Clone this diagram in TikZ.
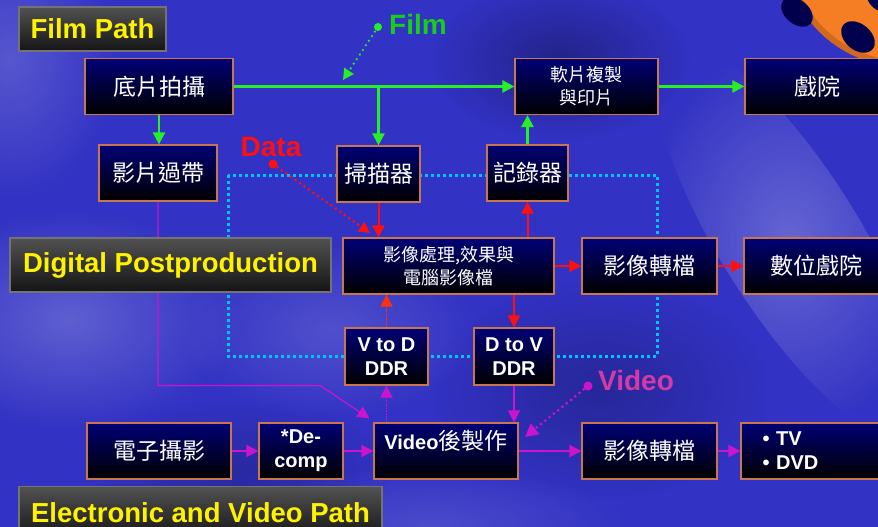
\documentclass[tikz,border=0pt]{standalone}
\usepackage{fontspec}
\setmainfont{Liberation Sans}
\newfontfamily\cjk{Noto Sans CJK TC}
\usetikzlibrary{arrows.meta, positioning, calc, fadings}

\definecolor{skyblue}{RGB}{50,50,196}
\definecolor{boxtop}{RGB}{0,0,118}
\definecolor{boxedge}{RGB}{200,118,80}
\definecolor{filmgreen}{RGB}{40,238,40}
\definecolor{filmtext}{RGB}{25,205,25}
\definecolor{datared}{RGB}{255,15,15}
\definecolor{videomag}{RGB}{205,20,205}
\definecolor{videopink}{RGB}{212,58,165}
\definecolor{frameblue}{RGB}{0,195,255}
\definecolor{reel}{RGB}{245,125,35}

\newcommand{\zhbig}{\cjk\fontsize{23}{27}\selectfont}
\newcommand{\zhsmall}{\cjk\fontsize{18}{23}\selectfont}
\newcommand{\enbox}{\rmfamily\bfseries\fontsize{20}{24}\selectfont}

\tikzfading[name=softspot, inner color=transparent!0, outer color=transparent!100]

\pgfdeclarelayer{backdrop}
\pgfdeclarelayer{links}
\pgfsetlayers{backdrop,links,main}

\begin{document}
\begin{tikzpicture}[
    x=1pt, y=-1pt,
    >={Triangle[length=12pt,width=12pt]},
    procbox/.style={draw=boxedge, line width=1.2pt, top color=boxtop,
        bottom color=black, text=white, minimum height=56pt,
        align=center, inner sep=1pt, font=\zhbig},
    pathtag/.style={draw=black!55, line width=1.2pt, top color=black!68,
        bottom color=black!92, text=yellow, inner sep=0pt,
        font=\bfseries\fontsize{27.5}{30}\selectfont},
    filmline/.style={->, filmgreen, line width=2.5pt},
    dataline/.style={->, datared, line width=2pt},
    videoline/.style={->, videomag, line width=1.6pt},
    dataframe/.style={frameblue, line width=3pt, dash pattern=on 3pt off 3pt},
    hint/.style={line width=3pt, line cap=round, dash pattern=on 0pt off 5.5pt},
    tagtext/.style={font=\bfseries\fontsize{28}{30}\selectfont, inner sep=0pt},
    spot/.style={path fading=softspot}
]
\useasboundingbox (0,0) rectangle (878,527);

%-------------------------------
% 0) Cloudy backdrop and film reel
%-------------------------------
\begin{pgfonlayer}{backdrop}
\fill[skyblue] (0,0) rectangle (878,527);
\fill[white, opacity=0.22, spot] (70,320) ellipse (170 and 110);
\fill[white, opacity=0.18, spot] (10,60) ellipse (110 and 140);
\fill[white, opacity=0.25, spot, rotate around={-58:(790,240)}]
    (790,240) ellipse (230 and 70);
\fill[white, opacity=0.15, spot] (330,330) ellipse (150 and 90);
\fill[white, opacity=0.12, spot] (430,525) ellipse (200 and 60);
\fill[black, opacity=0.30, spot] (560,60) ellipse (130 and 80);
\fill[black, opacity=0.22, spot] (600,390) ellipse (170 and 110);
\fill[black, opacity=0.18, spot] (240,470) ellipse (150 and 70);
\fill[reel] (905,-55) circle (122);
\draw[reel!55!black, line width=6pt, opacity=0.35] (905,-55) circle (119);
\fill[black!70!blue, rotate around={-40:(797,12)}] (797,12) ellipse (18 and 12);
\fill[black!70!blue, rotate around={-40:(858,37)}] (858,37) ellipse (19 and 13);
\fill[black!70!blue, rotate around={-40:(880,0)}] (880,0) ellipse (15 and 10);
\end{pgfonlayer}

%-------------------------------
% 1) Film path (top row)
%-------------------------------
\node[procbox, minimum width=148pt] (shoot) at (159,86.5) {底片拍攝};
\node[procbox, minimum width=118pt] (transfer) at (158,173) {影片過帶};
\node[procbox, minimum width=143pt, font=\zhsmall] (print) at (586.5,86.5)
    {軟片複製\\與印片};
\node[procbox, minimum width=144pt] (cinema) at (817,86.5) {戲院};

%-------------------------------
% 2) Digital postproduction (middle)
%-------------------------------
\node[procbox, minimum width=83pt] (scanner) at (378.5,174) {掃描器};
\node[procbox, minimum width=81pt] (recorder) at (527.5,173) {記錄器};
\node[procbox, minimum width=211pt, font=\zhsmall] (process) at (448.5,266)
    {影像處理,效果與\\電腦影像檔};
\node[procbox, minimum width=135pt] (dconv) at (649.5,266) {影像轉檔};
\node[procbox, minimum width=144pt] (dcinema) at (816,266) {數位戲院};
\node[procbox, minimum width=83pt, minimum height=57pt, font=\enbox]
    (vtod) at (386.5,356.5) {V to D\\DDR};
\node[procbox, minimum width=80pt, minimum height=57pt, font=\enbox]
    (dtov) at (514,356.5) {D to V\\DDR};

%-------------------------------
% 3) Electronic and video path (bottom row)
%-------------------------------
\node[procbox, minimum width=144pt] (camera) at (159,451) {電子攝影};
\node[procbox, minimum width=84pt, font=\enbox] (decomp) at (301,451)
    {*De-\\comp};
\node[procbox, minimum width=144pt] (video) at (446,451)
    {\raisebox{10pt}[\height][\depth]{{\enbox Video}後製作}};
\node[procbox, minimum width=135pt] (vconv) at (649.5,451) {影像轉檔};
\node[procbox, minimum width=148pt, text width=105pt, align=left,
    font=\enbox] (media) at (815,451) {\textbullet\ TV\\\textbullet\ DVD};

%-------------------------------
% 4) Path titles
%-------------------------------
\node[pathtag, minimum width=147pt, minimum height=44pt] (filmtitle)
    at (92.5,29) {Film Path};
\node[pathtag, minimum width=321pt, minimum height=54pt] (digititle)
    at (170.5,265) {Digital Postproduction};
\node[pathtag, minimum width=363pt, minimum height=53pt] (videotitle)
    at (200.5,513) {Electronic and Video Path};

%-------------------------------
% 5) Connections (behind the boxes)
%-------------------------------
\begin{pgfonlayer}{links}
% dotted frame round the digital area
\coordinate (frameNW) at (228,175);
\coordinate (frameSE) at (657,356);
\draw[dataframe] (frameNW) rectangle (frameSE);

% film (green)
\draw[filmline] (shoot.east) -- (shoot.east -| print.west);
\draw[filmline] (shoot.east -| scanner.north) -- (scanner.north);
\draw[filmline] (shoot.south) -- (shoot.south |- transfer.north);
\draw[filmline] (recorder.north) -- (recorder.north |- print.south);
\draw[filmline] (print.east) -- (cinema.west);

% data (red)
\draw[dataline] (scanner.south) -- (scanner.south |- process.north);
\draw[dataline] (process.north -| recorder) -- (recorder.south);
\draw[dataline] (process.east) -- (dconv.west);
\draw[dataline] (dconv.east) -- (dcinema.west);
\draw[dataline] (process.south -| dtov) -- (dtov.north);
\draw[->, datared!70!orange, line width=1.6pt, densely dotted]
    (vtod.north) -- (vtod.north |- process.south);

% video (magenta)
\coordinate (tapebend) at (320,385.5);
\draw[videoline, line width=1.2pt] (transfer.south) |- (tapebend)
    -- ([xshift=-4pt,yshift=4pt]video.north west);
\draw[videoline, line width=1.2pt] (dtov.south) -- (dtov.south |- video.north);
\draw[->, videomag, line width=1.6pt, densely dotted]
    (video.north -| vtod) -- (vtod.south);
\draw[videoline] (camera.east) -- (decomp.west);
\draw[videoline] (decomp.east) -- (video.west);
\draw[videoline, line width=2.4pt] (video.east) -- (vconv.west);
\draw[videoline] (vconv.east) -- (media.west);
\end{pgfonlayer}

%-------------------------------
% 6) Flow tags with dotted pointers
%-------------------------------
\node[tagtext, text=filmtext] (filmtag) at (418,24) {Film};
\coordinate (filmdot) at (378,27);
\coordinate (filmtip) at (343,80);
\fill[filmgreen] (filmdot) circle (4pt);
\draw[->, filmgreen, hint, line width=2.5pt,
    >={Triangle[length=11pt,width=11pt]}] (filmdot) -- (filmtip);

\node[tagtext, text=datared] (datatag) at (271,147) {Data};
\coordinate (datadot) at (273,164);
\coordinate (datatip) at (370,233);
\fill[datared] (datadot) circle (4.5pt);
\draw[->, datared, hint, >={Triangle[length=11pt,width=11pt]}]
    (datadot) -- (datatip);

\node[tagtext, text=videopink] (videotag) at (636,380) {Video};
\coordinate (videodot) at (588,386);
\coordinate (videotip) at (525,437);
\fill[videomag] (videodot) circle (4.5pt);
\draw[->, videomag, hint, >={Triangle[length=13pt,width=13pt]}]
    (videodot) -- (videotip);

\end{tikzpicture}
\end{document}
